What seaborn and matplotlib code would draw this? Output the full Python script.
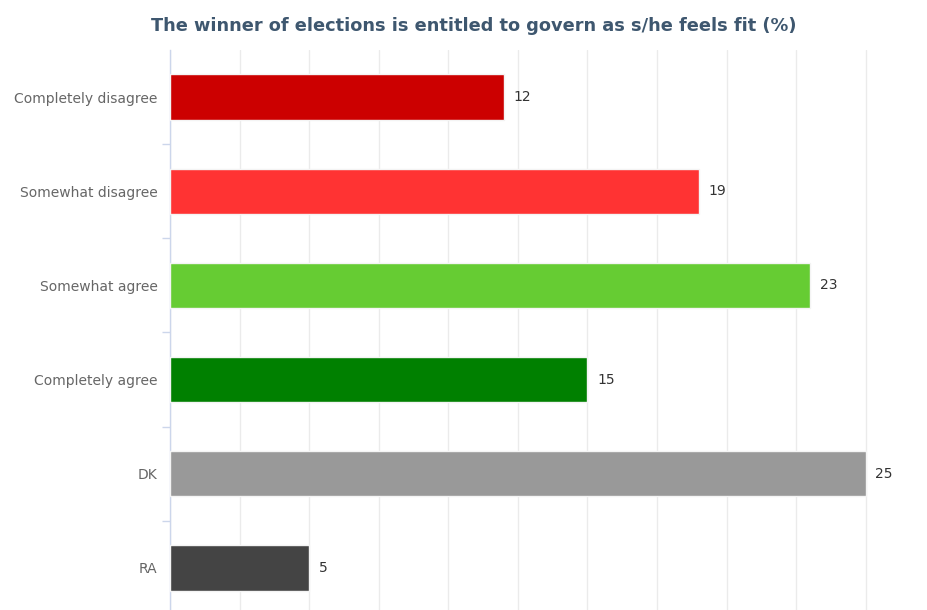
import numpy as np
import matplotlib.pyplot as plt
import seaborn as sns
import pandas as pd
from matplotlib.ticker import MultipleLocator, FixedLocator

categories = ["Completely disagree", "Somewhat disagree", "Somewhat agree",
              "Completely agree", "DK", "RA"]
values = [12, 19, 23, 15, 25, 5]
colors = ["#CC0000", "#FF3333", "#66CC33", "#008000", "#999999", "#444444"]
title = "The winner of elections is entitled to govern as s/he feels fit (%)"

df = pd.DataFrame({"answer": categories, "pct": values})

sns.set_theme(style="white")
plt.rcParams["font.family"] = ["DejaVu Sans"]

fig = plt.figure(figsize=(9.28, 6.10), dpi=100)
ax = fig.add_axes([170 / 928, 0.0, 704 / 928, 1 - 50 / 610])

sns.barplot(data=df, x="pct", y="answer", hue="answer", palette=colors,
            saturation=1, legend=False, orient="h", width=0.48,
            edgecolor="#f4f4f4", linewidth=1, ax=ax, zorder=3)

ax.set_xlim(0, 25.3)
ax.set_ylim(5.447, -0.5)
ax.xaxis.set_major_locator(MultipleLocator(2.5))
ax.grid(axis="x", color="#ebebeb", linewidth=1, zorder=0)
ax.set_axisbelow(True)
ax.tick_params(axis="x", length=0, labelbottom=False)
ax.set_xlabel("")
ax.set_ylabel("")

ax.tick_params(axis="y", which="major", left=False, length=0, pad=9,
               labelsize=10, labelcolor="#666666")
ax.yaxis.set_minor_locator(FixedLocator(np.arange(0.5, 5.5, 1)))
ax.tick_params(axis="y", which="minor", left=True, length=6, width=1,
               color="#ccd6eb")

for s in ["top", "right", "bottom"]:
    ax.spines[s].set_visible(False)
ax.spines["left"].set_color("#ccd6eb")
ax.spines["left"].set_linewidth(1)

for i, v in enumerate(values):
    ax.annotate(str(v), (v, i), xytext=(7, 0), textcoords="offset points",
                va="center", ha="left", fontsize=10, color="#333333",
                clip_on=False)

fig.text(0.51, 1 - 26 / 610, title, ha="center", va="center", fontsize=12.8,
         fontweight="bold", color="#3E576F")

fig.savefig("out.png", dpi=100)
